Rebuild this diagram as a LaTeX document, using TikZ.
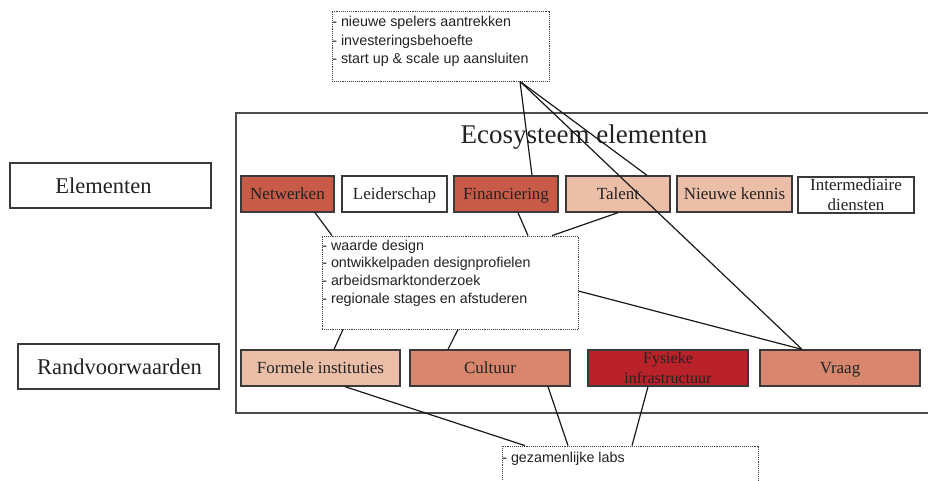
\documentclass[tikz,border=0pt]{standalone}
\usepackage{fontspec}
\setmainfont{Liberation Serif}
\newfontfamily\notefont{Liberation Sans}
\definecolor{fillDark}{HTML}{C85A48}
\definecolor{fillLight}{HTML}{EBBEA8}
\definecolor{fillMid}{HTML}{D8876E}
\definecolor{fillRed}{HTML}{BA222A}
\definecolor{edgeGray}{HTML}{3A3A3A}
\definecolor{inkDark}{HTML}{222222}
\begin{document}
\begin{tikzpicture}[x=1pt,y=-1pt,
  elem/.style={draw=edgeGray,line width=1.3pt,minimum height=36pt,inner sep=0pt,
    text=inkDark,font=\fontsize{17}{19}\selectfont,align=center,
    text height=13pt,text depth=3pt},
  elemtwo/.style={elem,text height=,text depth=},
  sidebox/.style={draw=edgeGray,line width=1.1pt,minimum width=201pt,minimum height=45pt,
    inner sep=0pt,text=inkDark,font=\fontsize{22.5}{24}\selectfont},
  notebox/.style={draw=black!75,line width=0.8pt,dash pattern=on 0.8pt off 1.1pt,inner sep=0pt},
  notetext/.style={anchor=north west,inner xsep=0.5pt,inner ysep=1.5pt,align=left,
    text=inkDark,font=\notefont\fontsize{14.3}{18.5}\selectfont},
  link/.style={draw=black!90,line width=1.2pt}]
\useasboundingbox (0,0) rectangle (928,480);

% outer frame of the ecosystem
\node[draw=black!70,line width=1.2pt,minimum width=709pt,minimum height=300pt,inner sep=0pt]
  (eco) at (590.5,263) {};
\node[text=inkDark,font=\fontsize{27}{29}\selectfont] (ecotitle) at (584,137) {Ecosysteem elementen};

% row labels on the left
\node[sidebox] (lblElem) at (110.5,185.5) {Elementen\hspace*{14pt}};
\node[sidebox] (lblRand) at (118.5,366.5) {\hspace*{2pt}Randvoorwaarden};

% element boxes
\node[elem,fill=fillDark,minimum width=93pt]  (net)  at (287.5,194) {Netwerken};
\node[elem,fill=white,minimum width=105pt]    (lead) at (394.5,194) {Leiderschap};
\node[elem,fill=fillDark,minimum width=104pt] (fin)  at (506,194)   {Financiering};
\node[elem,fill=fillLight,minimum width=104pt](tal)  at (618,194)   {Talent};
\node[elem,fill=fillLight,minimum width=115pt](kenn) at (734.5,194) {Nieuwe kennis};
\node[elemtwo,fill=white,minimum width=116pt,font=\fontsize{17}{20}\selectfont]
  (inter) at (856,195) {Intermediaire\\diensten};

% boundary condition boxes
\node[elem,fill=fillLight,minimum width=159pt] (form) at (320.5,368) {Formele instituties};
\node[elem,fill=fillMid,minimum width=160pt]   (cult) at (490,368)   {Cultuur};
\node[elemtwo,fill=fillRed,minimum width=160pt,font=\fontsize{16}{20}\selectfont]
  (fys) at (668,368) {Fysieke\\infrastructuur};
\node[elem,fill=fillMid,minimum width=160pt]   (vraag) at (840,368)  {Vraag};

% annotation boxes
\node[notebox,minimum width=217pt,minimum height=70pt] (top) at (440.5,46) {};
\node[notetext] (topText) at ([yshift=-4pt]top.north west)
  {- nieuwe spelers aantrekken\\- investeringsbehoefte\\- start up \& scale up aansluiten};

\node[notebox,fill=white,minimum width=256pt,minimum height=93pt] (mid) at (450,282.5) {};
\node[notetext,font=\notefont\fontsize{14.3}{17.7}\selectfont] (midText) at ([yshift=-2.5pt]mid.north west)
  {- waarde design\\- ontwikkelpaden designprofielen\\- arbeidsmarktonderzoek\\- regionale stages en afstuderen};

\node[notebox,minimum width=256pt,minimum height=50pt] (labs) at (630,471) {};
\node[notetext] (labsText) at ([yshift=-4.5pt]labs.north west) {- gezamenlijke labs};

% connectors
\draw[link] ([xshift=79.5pt]top.south) -- ([xshift=26pt]fin.north);
\draw[link] ([xshift=79.5pt]top.south) -- ([xshift=29pt]tal.north);
\draw[link] ([xshift=79.5pt]top.south) -- ([xshift=-38pt]vraag.north);
\draw[link] ([xshift=27.5pt]net.south) -- ([xshift=-118pt]mid.north);
\draw[link] ([xshift=12pt]fin.south) -- ([xshift=78pt]mid.north);
\draw[link] (tal.south) -- ([xshift=102pt]mid.north);
\draw[link] ([yshift=-8.5pt]mid.east) -- ([xshift=-38pt]vraag.north);
\draw[link] ([xshift=-107pt]mid.south) -- ([xshift=13.5pt]form.north);
\draw[link] ([xshift=8pt]mid.south) -- ([xshift=-42pt]cult.north);
\draw[link] ([xshift=24.5pt]form.south) -- ([xshift=-105pt]labs.north);
\draw[link] ([xshift=58pt]cult.south) -- ([xshift=-62pt]labs.north);
\draw[link] ([xshift=-20pt]fys.south) -- ([xshift=2pt]labs.north);
\end{tikzpicture}
\end{document}
